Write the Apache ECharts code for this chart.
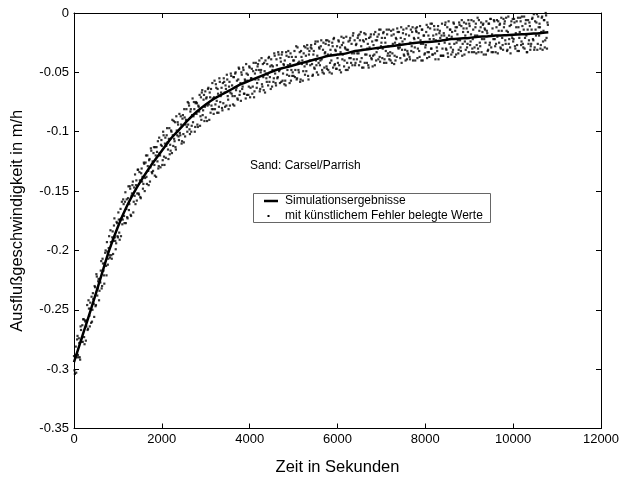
<!DOCTYPE html>
<html>
<head>
<meta charset="utf-8">
<title>Ausflußgeschwindigkeit</title>
<script src="https://cdn.jsdelivr.net/npm/echarts@6/dist/echarts.min.js"></script>
<style>
  html, body { margin: 0; padding: 0; background: #fff; }
  #chart { width: 619px; height: 477px; }
</style>
</head>
<body>
<div id="chart"></div>
<script>
// Simulated outflow velocity (m/h) over time (s) — smooth model curve
const curveT = [0, 200, 400, 600, 800, 1000, 1200, 1400, 1600, 1800, 2000, 2200, 2400, 2600, 2800,
  3000, 3200, 3400, 3600, 3800, 4000, 4200, 4400, 4600, 4800, 5000, 5200, 5400, 5600, 5800,
  6000, 6200, 6400, 6600, 6800, 7000, 7200, 7400, 7600, 7800, 8000, 8200, 8400, 8600, 8800,
  9000, 9200, 9400, 9600, 9800, 10000, 10200, 10400, 10600, 10800];
const curveV = [-0.294, -0.271, -0.248, -0.224, -0.200, -0.180, -0.163, -0.149, -0.137, -0.126,
  -0.116, -0.106, -0.098, -0.090, -0.083, -0.077, -0.072, -0.068, -0.064, -0.060,
  -0.057, -0.054, -0.051, -0.048, -0.046, -0.044, -0.042, -0.040, -0.038, -0.036,
  -0.035, -0.034, -0.032, -0.031, -0.030, -0.029, -0.028, -0.027, -0.026, -0.025,
  -0.0245, -0.024, -0.023, -0.022, -0.0215, -0.021, -0.020, -0.0198, -0.019, -0.0188,
  -0.0183, -0.018, -0.0175, -0.017, -0.0163];

// Values with artificial measurement error, sampled every 10 s.
// noisyEven: t = 0, 20, 40, ...   noisyOdd: t = 10, 30, 50, ...
const SAMPLE_STEP = 20;
const ODD_OFFSET = 10;
const noisyEven = [
  -.289,-.304,-.281,-.290,-.272,-.290,-.278,-.292,-.267,-.274,
  -.277,-.258,-.279,-.260,-.264,-.246,-.266,-.249,-.264,-.249,
  -.239,-.250,-.241,-.256,-.231,-.246,-.222,-.232,-.224,-.234,
  -.227,-.209,-.230,-.211,-.221,-.211,-.200,-.221,-.201,-.207,
  -.188,-.206,-.193,-.207,-.184,-.192,-.173,-.192,-.194,-.177,
  -.189,-.174,-.191,-.165,-.173,-.178,-.157,-.171,-.159,-.177,
  -.157,-.173,-.146,-.161,-.148,-.171,-.152,-.142,-.159,-.154,
  -.161,-.141,-.152,-.132,-.153,-.141,-.156,-.131,-.138,-.144,
  -.127,-.139,-.120,-.144,-.129,-.145,-.123,-.130,-.116,-.135,
  -.133,-.113,-.137,-.120,-.113,-.125,-.131,-.105,-.120,-.111,
  -.112,-.124,-.103,-.128,-.105,-.112,-.097,-.115,-.106,-.119,
  -.116,-.100,-.090,-.112,-.106,-.092,-.115,-.099,-.092,-.104,
  -.085,-.103,-.094,-.108,-.086,-.109,-.088,-.094,-.081,-.100,
  -.094,-.078,-.102,-.081,-.095,-.072,-.087,-.081,-.096,-.075,
  -.076,-.096,-.079,-.069,-.087,-.090,-.065,-.082,-.069,-.079,
  -.088,-.071,-.078,-.063,-.090,-.071,-.064,-.081,-.072,-.085,
  -.057,-.077,-.063,-.084,-.068,-.079,-.058,-.070,-.063,-.082,
  -.076,-.058,-.079,-.064,-.052,-.070,-.081,-.058,-.067,-.053,
  -.061,-.077,-.054,-.070,-.050,-.063,-.072,-.056,-.047,-.066,
  -.074,-.052,-.062,-.048,-.068,-.057,-.043,-.069,-.052,-.062,
  -.046,-.063,-.055,-.068,-.049,-.071,-.051,-.042,-.063,-.045,
  -.056,-.040,-.064,-.048,-.060,-.043,-.065,-.049,-.040,-.055,
  -.043,-.061,-.037,-.054,-.064,-.044,-.048,-.058,-.034,-.051,
  -.061,-.044,-.054,-.035,-.048,-.038,-.058,-.033,-.051,-.044,
  -.040,-.061,-.036,-.048,-.032,-.053,-.043,-.057,-.037,-.050,
  -.053,-.032,-.048,-.028,-.055,-.042,-.050,-.033,-.056,-.037,
  -.040,-.049,-.028,-.052,-.036,-.043,-.030,-.056,-.032,-.044,
  -.027,-.043,-.052,-.032,-.047,-.024,-.044,-.036,-.052,-.029,
  -.044,-.028,-.039,-.050,-.025,-.046,-.033,-.023,-.047,-.035,
  -.027,-.050,-.031,-.040,-.025,-.046,-.021,-.043,-.032,-.047,
  -.038,-.023,-.044,-.029,-.050,-.027,-.035,-.021,-.040,-.030,
  -.020,-.042,-.031,-.046,-.023,-.038,-.026,-.044,-.017,-.034,
  -.044,-.027,-.039,-.021,-.034,-.018,-.041,-.028,-.046,-.023,
  -.024,-.042,-.018,-.035,-.030,-.044,-.021,-.036,-.018,-.039,
  -.045,-.027,-.035,-.016,-.040,-.023,-.030,-.018,-.037,-.014,
  -.025,-.038,-.017,-.042,-.021,-.032,-.014,-.036,-.028,-.039,
  -.033,-.015,-.042,-.026,-.018,-.036,-.040,-.022,-.013,-.029,
  -.016,-.029,-.021,-.042,-.024,-.014,-.036,-.031,-.018,-.039,
  -.034,-.011,-.037,-.025,-.032,-.016,-.040,-.021,-.029,-.013,
  -.016,-.038,-.021,-.032,-.011,-.026,-.014,-.040,-.019,-.035,
  -.029,-.016,-.038,-.012,-.033,-.022,-.009,-.030,-.035,-.019,
  -.011,-.034,-.023,-.029,-.014,-.039,-.017,-.021,-.036,-.009,
  -.036,-.017,-.025,-.008,-.031,-.012,-.037,-.019,-.014,-.029,
  -.020,-.033,-.008,-.026,-.015,-.035,-.012,-.023,-.031,-.010,
  -.029,-.011,-.036,-.016,-.008,-.024,-.031,-.013,-.026,-.006,
  -.009,-.027,-.018,-.033,-.022,-.007,-.029,-.012,-.034,-.019,
  -.030,-.006,-.025,-.012,-.033,-.016,-.009,-.022,-.014,-.035,
  -.015,-.032,-.009,-.027,-.005,-.029,-.018,-.033,-.006,-.022,
  -.033,-.012,-.020,-.007,-.025,-.009,-.030,-.015,-.027,-.005,
  -.009,-.023,-.004,-.032,-.016,-.026,-.011,-.034,-.007,-.021,
  -.024,-.005,-.028,-.017,-.007,-.032,-.012,-.021,-.004,-.027,
  -.003,-.026,-.014,-.030,-.009,-.019,-.033,-.006,-.023,-.011,
  -.028,-.014,-.004,-.023,-.031,-.007,-.019,-.001,-.026,-.012,
  -.009,-.030,-.016,-.003,-.024,-.006,-.029,0.000,-.021,-.008
];
const noisyOdd = [
  -.301,-.288,-.303,-.275,-.288,-.274,-.290,-.264,-.277,-.263,
  -.258,-.273,-.259,-.276,-.259,-.267,-.242,-.255,-.244,-.261,
  -.260,-.236,-.245,-.230,-.247,-.220,-.238,-.226,-.242,-.224,
  -.217,-.232,-.207,-.217,-.228,-.202,-.213,-.193,-.212,-.198,
  -.204,-.183,-.204,-.189,-.203,-.179,-.189,-.199,-.176,-.188,
  -.168,-.185,-.174,-.188,-.159,-.174,-.161,-.177,-.151,-.165,
  -.172,-.156,-.166,-.146,-.170,-.154,-.145,-.168,-.147,-.136,
  -.145,-.158,-.132,-.152,-.134,-.155,-.135,-.142,-.148,-.126,
  -.150,-.126,-.138,-.120,-.133,-.124,-.142,-.114,-.134,-.125,
  -.118,-.128,-.113,-.138,-.117,-.108,-.129,-.118,-.130,-.107,
  -.128,-.100,-.121,-.110,-.122,-.103,-.109,-.123,-.097,-.111,
  -.099,-.118,-.103,-.091,-.108,-.113,-.087,-.103,-.094,-.107,
  -.101,-.087,-.110,-.089,-.102,-.081,-.104,-.090,-.096,-.075,
  -.076,-.098,-.083,-.100,-.086,-.092,-.075,-.100,-.076,-.085,
  -.094,-.078,-.083,-.095,-.071,-.067,-.086,-.073,-.091,-.066,
  -.072,-.091,-.064,-.077,-.067,-.084,-.078,-.059,-.081,-.071,
  -.081,-.060,-.074,-.064,-.084,-.055,-.075,-.067,-.080,-.059,
  -.055,-.067,-.061,-.078,-.056,-.073,-.062,-.078,-.051,-.068,
  -.070,-.054,-.078,-.051,-.065,-.057,-.073,-.046,-.069,-.059,
  -.050,-.064,-.046,-.068,-.056,-.072,-.051,-.057,-.069,-.045,
  -.071,-.055,-.047,-.062,-.042,-.066,-.056,-.048,-.059,-.043,
  -.048,-.066,-.050,-.038,-.062,-.054,-.042,-.067,-.051,-.058,
  -.052,-.038,-.058,-.045,-.039,-.062,-.045,-.055,-.036,-.059,
  -.039,-.055,-.033,-.049,-.059,-.041,-.035,-.057,-.043,-.060,
  -.057,-.033,-.052,-.044,-.037,-.059,-.034,-.048,-.053,-.040,
  -.040,-.054,-.037,-.056,-.029,-.048,-.041,-.058,-.032,-.043,
  -.057,-.034,-.045,-.029,-.049,-.027,-.053,-.035,-.040,-.029,
  -.030,-.053,-.035,-.046,-.026,-.040,-.050,-.024,-.042,-.030,
  -.040,-.023,-.048,-.031,-.051,-.034,-.026,-.045,-.023,-.048,
  -.024,-.042,-.035,-.051,-.028,-.022,-.044,-.031,-.047,-.028,
  -.042,-.024,-.048,-.033,-.020,-.039,-.025,-.045,-.029,-.048,
  -.031,-.048,-.024,-.038,-.021,-.042,-.034,-.019,-.039,-.023,
  -.042,-.026,-.034,-.019,-.044,-.023,-.016,-.038,-.031,-.046,
  -.017,-.035,-.022,-.042,-.026,-.046,-.029,-.020,-.038,-.024,
  -.036,-.018,-.044,-.023,-.033,-.020,-.039,-.014,-.041,-.028,
  -.021,-.030,-.016,-.039,-.025,-.042,-.018,-.034,-.014,-.036,
  -.040,-.019,-.034,-.014,-.043,-.025,-.021,-.037,-.016,-.030,
  -.026,-.038,-.012,-.031,-.017,-.035,-.022,-.040,-.013,-.032,
  -.035,-.019,-.039,-.014,-.028,-.012,-.033,-.022,-.040,-.015,
  -.012,-.030,-.017,-.037,-.023,-.040,-.014,-.026,-.019,-.034,
  -.027,-.010,-.033,-.019,-.037,-.013,-.030,-.009,-.035,-.022,
  -.014,-.039,-.018,-.032,-.011,-.026,-.015,-.036,-.019,-.030,
  -.036,-.019,-.010,-.030,-.021,-.034,-.007,-.026,-.014,-.035,
  -.016,-.031,-.009,-.037,-.012,-.025,-.018,-.034,-.008,-.023,
  -.032,-.006,-.026,-.013,-.035,-.019,-.009,-.029,-.016,-.033,
  -.011,-.024,-.006,-.030,-.014,-.033,-.019,-.009,-.027,-.004,
  -.033,-.015,-.028,-.008,-.022,-.010,-.035,-.013,-.025,-.007,
  -.017,-.031,-.009,-.025,-.005,-.033,-.013,-.022,-.007,-.028,
  -.026,-.006,-.034,-.015,-.010,-.029,-.004,-.021,-.031,-.012,
  -.007,-.026,-.015,-.031,-.003,-.022,-.029,-.010,-.019,-.005,
  -.022,-.008,-.030,-.012,-.027,-.004,-.032,-.016,-.007,-.024,
  -.011,-.029,-.003,-.021,-.006,-.033,-.014,-.026,-.008,-.031,
  -.026,-.005,-.022,-.001,-.029,-.014,-.008,-.031,-.003,-.019,
  -.012,-.027,-.004,-.031,-.015,-.006,-.023,-.002,-.030,-.010
];

// Axis ranges and tick spacing
const xRange = [0, 12000], xStep = 2000;
const yRange = [-0.35, 0], yStep = 0.05;

const xTitle = 'Zeit in Sekunden';
const yTitle = 'Ausflußgeschwindigkeit in m/h';
const seriesNames = ['Simulationsergebnisse', 'mit künstlichem Fehler belegte Werte'];
const caseLabel = 'Sand: Carsel/Parrish';

const FONT = '"Liberation Sans", Arial, sans-serif';

const lineData = curveT.map((t, i) => [t, curveV[i]]);
const dotData = noisyEven.map((v, i) => [i * SAMPLE_STEP, v])
  .concat(noisyOdd.map((v, i) => [i * SAMPLE_STEP + ODD_OFFSET, v]));

const chart = echarts.init(document.getElementById('chart'), null, { renderer: 'canvas' });

// Boxed frame: every side carries an axis line with inward-pointing ticks
const frameLine = () => ({ show: true, onZero: false, lineStyle: { color: '#000', width: 1 } });
const inTick = () => ({ show: true, inside: true, length: 5, lineStyle: { color: '#000', width: 1 } });

chart.setOption({
  backgroundColor: '#fff',
  animation: false,
  textStyle: { fontFamily: FONT },
  grid: { left: 74, right: 18, top: 13, bottom: 48.5, containLabel: false, outerBoundsMode: 'none' },
  xAxis: [
    {
      type: 'value', min: xRange[0], max: xRange[1], interval: xStep,
      position: 'bottom',
      axisLine: frameLine(), axisTick: inTick(), splitLine: { show: false },
      axisLabel: { color: '#000', fontSize: 13, margin: 4, fontFamily: FONT, formatter: v => String(v) },
      name: xTitle, nameLocation: 'middle', nameGap: 30,
      nameTextStyle: { color: '#000', fontSize: 16.5, fontFamily: FONT }
    },
    {
      type: 'value', min: xRange[0], max: xRange[1], interval: xStep,
      position: 'top',
      axisLine: frameLine(), axisTick: inTick(), splitLine: { show: false },
      axisLabel: { show: false }
    }
  ],
  yAxis: [
    {
      type: 'value', min: yRange[0], max: yRange[1], interval: yStep,
      position: 'left',
      axisLine: frameLine(), axisTick: inTick(), splitLine: { show: false },
      axisLabel: { color: '#000', fontSize: 13, margin: 5, fontFamily: FONT,
        formatter: v => String(Math.round(v * 100) / 100) },
      name: yTitle, nameLocation: 'middle', nameGap: 48, nameRotate: 90,
      nameTextStyle: { color: '#000', fontSize: 16.5, fontFamily: FONT }
    },
    {
      type: 'value', min: yRange[0], max: yRange[1], interval: yStep,
      position: 'right',
      axisLine: frameLine(), axisTick: inTick(), splitLine: { show: false },
      axisLabel: { show: false }
    }
  ],
  series: [
    {
      name: seriesNames[1],
      type: 'scatter',
      data: dotData,
      symbol: 'rect',
      symbolSize: 2.2,
      itemStyle: { color: '#000' },
      silent: true,
      z: 2
    },
    {
      name: seriesNames[0],
      type: 'line',
      data: lineData,
      showSymbol: false,
      symbol: 'none',
      smooth: 0.3,
      lineStyle: { color: '#000', width: 2.5 },
      silent: true,
      z: 3
    }
  ],
  graphic: [
    {
      type: 'text', left: 250, top: 160, z: 10,
      style: { text: caseLabel, fill: '#000', font: '12px ' + FONT }
    },
    {
      type: 'group', left: 253, top: 193, z: 10,
      children: [
        { type: 'rect', shape: { x: 0.5, y: 0.5, width: 237, height: 29 },
          style: { fill: '#fff', stroke: '#666', lineWidth: 1 } },
        { type: 'line', shape: { x1: 11, y1: 8, x2: 25, y2: 8 },
          style: { stroke: '#000', lineWidth: 2.5 } },
        { type: 'rect', shape: { x: 14.5, y: 22, width: 2, height: 2 }, style: { fill: '#000' } },
        { type: 'text', x: 32, y: 8,
          style: { text: seriesNames[0], fill: '#000', font: '12px ' + FONT, verticalAlign: 'middle' } },
        { type: 'text', x: 32, y: 23,
          style: { text: seriesNames[1], fill: '#000', font: '12px ' + FONT, verticalAlign: 'middle' } }
      ]
    }
  ]
});
</script>
</body>
</html>
